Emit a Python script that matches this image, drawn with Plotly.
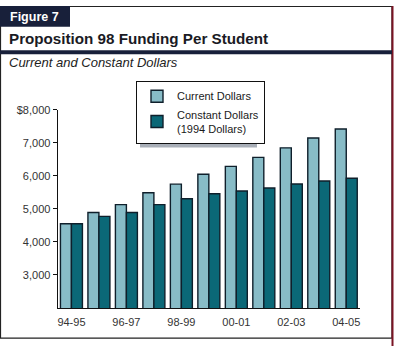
import plotly.graph_objects as go

# School years on the category axis
years = ["94-95", "95-96", "96-97", "97-98", "98-99", "99-00",
         "00-01", "01-02", "02-03", "03-04", "04-05"]
# Proposition 98 funding per student, current dollars
current_dollars = [4550, 4890, 5130, 5490, 5750, 6050, 6290, 6560, 6850, 7150, 7420]
# Same series in constant 1994 dollars
constant_dollars = [4550, 4775, 4890, 5130, 5310, 5460, 5545, 5635, 5755, 5845, 5930]
# Labelled ticks
x_tick_labels = ["94-95", "96-97", "98-99", "00-01", "02-03", "04-05"]
y_tick_values = [3000, 4000, 5000, 6000, 7000, 8000]
y_tick_labels = ["3,000", "4,000", "5,000", "6,000", "7,000", "$8,000"]

W, H = 394, 346
FONT = "Arial, Liberation Sans, sans-serif"
NAVY = "#18203a"
OUTLINE = "#0f1f2b"


def px(x):
    return x / W


def py(y):
    return 1 - y / H


fig = go.Figure()
fig.add_trace(go.Bar(
    x=years, y=current_dollars, name="Current Dollars",
    marker=dict(color="#88bcc7", line=dict(color=OUTLINE, width=1.4)),
))
fig.add_trace(go.Bar(
    x=years, y=constant_dollars, name="Constant Dollars<br>(1994 Dollars)",
    marker=dict(color="#0b6877", line=dict(color=OUTLINE, width=1.4)),
))

shapes = [
    # outer frame
    dict(type="rect", xref="paper", yref="paper", x0=px(0.5), x1=px(392), y0=py(338), y1=py(0.5),
         line=dict(color="#222", width=1.2), fillcolor="rgba(0,0,0,0)", layer="below"),
    dict(type="line", xref="paper", yref="paper", x0=px(392.5), x1=px(392.5), y0=0, y1=1,
         line=dict(color="#7a1424", width=2)),
    # "Figure 7" tab
    dict(type="rect", xref="paper", yref="paper", x0=0, x1=px(70), y0=py(21), y1=1,
         line=dict(width=0), fillcolor=NAVY),
    # heavy rule under the title
    dict(type="rect", xref="paper", yref="paper", x0=0, x1=px(392), y0=py(49), y1=py(45),
         line=dict(width=0), fillcolor=NAVY),
    # legend drop shadow
    dict(type="rect", xref="paper", yref="paper", x0=px(140), x1=px(257), y0=py(144), y1=py(86),
         line=dict(width=0), fillcolor="#a9afb8", layer="below"),
]

annotations = [
    dict(text="<b>Figure 7</b>", x=px(8), y=py(11), xref="paper", yref="paper",
         xanchor="left", yanchor="middle", showarrow=False,
         font=dict(family=FONT, size=12.5, color="white")),
    dict(text="<b>Proposition 98 Funding Per Student</b>", x=px(7), y=py(33), xref="paper", yref="paper",
         xanchor="left", yanchor="middle", showarrow=False,
         font=dict(family=FONT, size=15.2, color="#1a1a24")),
    dict(text="<i>Current and Constant Dollars</i>", x=px(7), y=py(58), xref="paper", yref="paper",
         xanchor="left", yanchor="middle", showarrow=False,
         font=dict(family=FONT, size=13, color="#222")),
]

fig.update_layout(
    width=W, height=H,
    margin=dict(l=0, r=0, t=0, b=0),
    paper_bgcolor="white", plot_bgcolor="white",
    barmode="group", bargap=0.2, bargroupgap=0,
    font=dict(family=FONT, size=11, color="#333"),
    shapes=shapes, annotations=annotations,
    legend=dict(
        x=px(136), y=py(76), xanchor="left", yanchor="top",
        bgcolor="white", bordercolor="#111", borderwidth=1,
        font=dict(family=FONT, size=11, color="#1a1a1a"),
        tracegroupgap=0, itemwidth=30,
    ),
    xaxis=dict(
        type="category",
        domain=[px(57.7), px(360)], range=[-0.5, 10.5],
        tickmode="array", tickvals=x_tick_labels, ticktext=x_tick_labels,
        ticks="outside", ticklen=4, tickcolor="rgba(0,0,0,0)",
        showline=True, linecolor="#111", linewidth=1.2, showgrid=False,
        tickfont=dict(family=FONT, size=11, color="#333"),
    ),
    yaxis=dict(
        domain=[py(307.3), py(105.7)], range=[2000, 8000],
        tickmode="array", tickvals=y_tick_values, ticktext=y_tick_labels,
        ticks="outside", ticklen=4, tickcolor="#111",
        showline=True, linecolor="#111", linewidth=1.2, showgrid=False, zeroline=False,
        tickfont=dict(family=FONT, size=11, color="#333"),
    ),
)

fig.write_html("out.html")
